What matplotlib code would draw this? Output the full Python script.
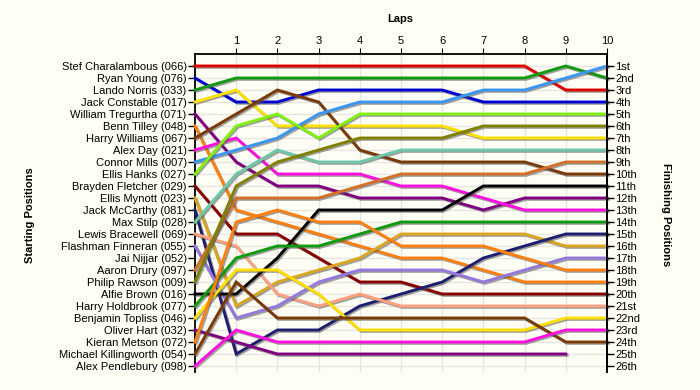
import matplotlib
matplotlib.use("Agg")
import matplotlib.pyplot as plt
import matplotlib.patheffects as pe

plt.rcParams['font.family'] = ['Liberation Sans', 'DejaVu Sans']

laps = list(range(11))

drivers = [
    "Stef Charalambous (066)", "Ryan Young (076)", "Lando Norris (033)",
    "Jack Constable (017)", "William Tregurtha (071)", "Benn Tilley (048)",
    "Harry Williams (067)", "Alex Day (021)", "Connor Mills (007)",
    "Ellis Hanks (027)", "Brayden Fletcher (029)", "Ellis Mynott (023)",
    "Jack McCarthy (081)", "Max Stilp (028)", "Lewis Bracewell (069)",
    "Flashman Finneran (055)", "Jai Nijjar (052)", "Aaron Drury (097)",
    "Philip Rawson (009)", "Alfie Brown (016)", "Harry Holdbrook (077)",
    "Benjamin Topliss (046)", "Oliver Hart (032)", "Kieran Metson (072)",
    "Michael Killingworth (054)", "Alex Pendlebury (098)",
]

colors = [
    "#E00000", "#0000D0", "#109A10", "#FFE000", "#800080", "#FF8010",
    "#7A3A08", "#FF10E0", "#3A96F0", "#80F010", "#880000", "#DAA520",
    "#1E1E70", "#6CC8A8", "#FFA080", "#9478DC", None, "#D2702A",
    "#808000", "#000000", "#109A10", "#FFE000", "#800080", "#FF8010",
    "#7A3A08", "#FF10E0",
]

# position of each driver at laps 0..10 (None = no longer running)
positions = [
    [1, 1, 1, 1, 1, 1, 1, 1, 1, 3, 3],
    [2, 4, 4, 3, 3, 3, 3, 4, 4, 4, 4],
    [3, 2, 2, 2, 2, 2, 2, 2, 2, 1, 2],
    [4, 3, 6, 6, 6, 6, 6, 7, 7, 7, 7],
    [5, 9, 11, 11, 12, 12, 12, 13, 12, 12, 12],
    [6, 13, 14, 15, 16, 17, 17, 18, 19, 19, 19],
    [7, 5, 3, 4, 8, 9, 9, 9, 9, 10, 10],
    [8, 7, 10, 10, 10, 11, 11, 12, 13, 13, 13],
    [9, 8, 7, 5, 4, 4, 4, 3, 3, 2, 1],
    [10, 6, 5, 7, 5, 5, 5, 5, 5, 5, 5],
    [11, 15, 15, 17, 19, 19, 20, 20, 20, 20, 20],
    [12, 21, 19, 18, 17, 15, 15, 15, 15, 16, 16],
    [13, 25, 23, 23, 21, 20, 19, 17, 16, 15, 15],
    [14, 10, 8, 9, 9, 8, 8, 8, 8, 8, 8],
    [15, 16, 20, 21, 20, 21, 21, 21, 21, 21, 21],
    [16, 22, 21, 19, 18, 18, 18, 19, 18, 17, 17],
    [],
    [18, 12, 12, 12, 11, 10, 10, 10, 10, 9, 9],
    [19, 11, 9, 8, 7, 7, 7, 6, 6, 6, 6],
    [20, 20, 17, 13, 13, 13, 13, 11, 11, 11, 11],
    [21, 17, 16, 16, 15, 14, 14, 14, 14, 14, 14],
    [22, 18, 18, 20, 23, 23, 23, 23, 23, 22, 22],
    [23, 24, 25, 25, 25, 25, 25, 25, 25, 25],
    [24, 14, 13, 14, 14, 16, 16, 16, 17, 18, 18],
    [25, 19, 22, 22, 22, 22, 22, 22, 22, 24, 24],
    [26, 23, 24, 24, 24, 24, 24, 24, 24, 23, 23],
]

finish_labels = ["1st", "2nd", "3rd"] + [f"{i}th" for i in range(4, 21)] + \
                ["21st", "22nd", "23rd", "24th", "25th", "26th"]

bg = "#FEFEF4"
fig = plt.figure(figsize=(7, 3.9), dpi=100, facecolor=bg)
ax = fig.add_axes([195 / 700, 1 - 372 / 390, 412 / 700, 318 / 390])
ax.set_facecolor(bg)

n = len(drivers)
ax.set_xlim(0, 10)
ax.set_ylim(n + 0.5, 0)

for i in range(1, 10):
    ax.axvline(i, color="#E4E4E4", lw=0.9, zorder=0)
for r in range(1, n + 1):
    ax.axhline(r, color="#E4E4E4", lw=0.9, zorder=0)

shadow = [pe.SimpleLineShadow(offset=(1.0, -1.0), shadow_color="#555555", alpha=0.55),
          pe.Normal()]
for pos, col in zip(positions, colors):
    if not pos:
        continue
    ax.plot(laps[:len(pos)], pos, color=col, lw=2.1, solid_joinstyle="miter",
            path_effects=shadow, zorder=3, clip_on=False)

# left axis: starting positions
ax.set_yticks(range(1, n + 1))
ax.set_yticklabels(drivers, fontsize=8)
ax.tick_params(axis="y", direction="out", length=5, width=1, pad=1)

# top axis: laps
ax.xaxis.tick_top()
ax.set_xticks(range(1, 11))
ax.set_xticklabels([str(i) for i in range(1, 11)], fontsize=8)
ax.tick_params(axis="x", direction="out", length=4, width=0.8, pad=2)

for s in ["bottom"]:
    ax.spines[s].set_visible(False)
ax.spines["top"].set_linewidth(1.3)
ax.spines["left"].set_linewidth(1.3)
ax.spines["right"].set_linewidth(1.3)

# right axis: finishing positions
ax2 = ax.twinx()
ax2.set_ylim(n + 0.5, 0)
ax2.set_yticks(range(1, n + 1))
ax2.set_yticklabels(finish_labels, fontsize=8)
ax2.tick_params(axis="y", direction="out", length=5, width=1, pad=1)
for s in ["bottom", "top", "left"]:
    ax2.spines[s].set_visible(False)
ax2.spines["right"].set_linewidth(1.3)

fig.text(400 / 700, 1 - 19 / 390, "Laps", ha="center", va="center",
         fontsize=8, fontweight="bold")
fig.text(30 / 700, 1 - 215 / 390, "Starting Positions", ha="center", va="center",
         rotation=90, fontsize=8, fontweight="bold")
fig.text(666 / 700, 1 - 215 / 390, "Finishing Positions", ha="center", va="center",
         rotation=-90, fontsize=8, fontweight="bold")

fig.savefig("out.png", dpi=100, facecolor=bg)
